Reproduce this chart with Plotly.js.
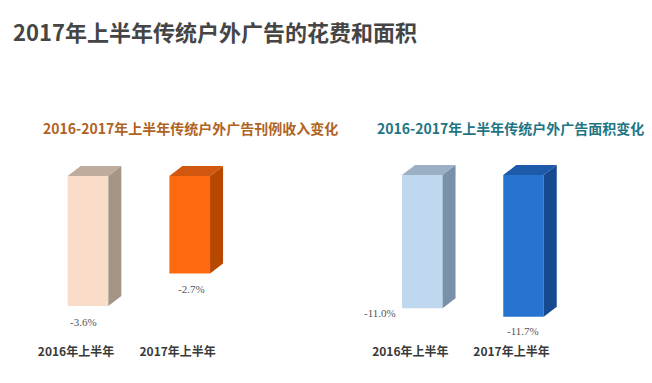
<!DOCTYPE html>
<html>
<head>
<meta charset="utf-8">
<script src="https://cdn.plot.ly/plotly-3.0.1.min.js"></script>
<style>html,body{margin:0;padding:0;background:#fff;}#chart{width:652px;height:383px;}</style>
</head>
<body>
<div id="chart"></div>
<script>
// ---- data ----
const categories = ["2016年上半年", "2017年上半年"];
const revenueChange = [-3.6, -2.7];   // 刊例收入变化 (%)
const areaChange = [-11.0, -11.7];    // 面积变化 (%)
const valueLabels1 = ["-3.6%", "-2.7%"];
const valueLabels2 = ["-11.0%", "-11.7%"];

// ---- styling / layout constants ----
const W = 652, H = 383;
const BAR_W = 0.4;
const DEPTH_X_PX = 13, DEPTH_Y_PX = 10;
const leftX = [37.15, 240.55], rightX = [371.7, 574.1];
const yPx = [160.5, 338.5];
const leftYRange = [-4.5, 0.43];
const rightYRange = [-13.5, 1.2];
const xRange = [-0.5, 1.5];

const palette1 = {front: ["#FADDC8", "#FF6A10"], top: ["#BFAC9C", "#D2570E"], side: ["#A59585", "#B84800"]};
const palette2 = {front: ["#BFD7EF", "#2673D0"], top: ["#9BB0C5", "#1D5AAA"], side: ["#7A90A8", "#154A90"]};

function dom(px, total) { return [px[0] / total, px[1] / total]; }
function ydom(px) { return [1 - px[1] / H, 1 - px[0] / H]; }

function buildTraces(values, pal, xa, ya, xPx, yRange) {
  const dx = DEPTH_X_PX * (xRange[1] - xRange[0]) / (xPx[1] - xPx[0]);
  const dy = DEPTH_Y_PX * (yRange[1] - yRange[0]) / (yPx[1] - yPx[0]);
  const traces = [];
  const idx = values.map((_, i) => i);
  traces.push({
    type: "bar", x: idx, y: values, base: 0, width: BAR_W,
    marker: {color: pal.front, line: {width: 0}},
    xaxis: xa, yaxis: ya, hoverinfo: "skip", showlegend: false
  });
  values.forEach((v, i) => {
    const L = i - BAR_W / 2, R = i + BAR_W / 2;
    traces.push({
      type: "scatter", mode: "lines", fill: "toself",
      x: [L, L + dx, R + dx, R, L], y: [0, dy, dy, 0, 0],
      fillcolor: pal.top[i], line: {width: 0, color: pal.top[i]},
      xaxis: xa, yaxis: ya, hoverinfo: "skip", showlegend: false
    });
    traces.push({
      type: "scatter", mode: "lines", fill: "toself",
      x: [R, R + dx, R + dx, R, R], y: [0, dy, v + dy, v, 0],
      fillcolor: pal.side[i], line: {width: 0, color: pal.side[i]},
      xaxis: xa, yaxis: ya, hoverinfo: "skip", showlegend: false
    });
  });
  return traces;
}

const traces = [].concat(
  buildTraces(revenueChange, palette1, "x", "y", leftX, leftYRange),
  buildTraces(areaChange, palette2, "x2", "y2", rightX, rightYRange)
);

function xaxisDef(px, anchor) {
  return {
    domain: dom(px, W), range: xRange, anchor: anchor, fixedrange: true,
    tickvals: [0, 1], ticktext: categories.map(c => "<b>" + c + "</b>"),
    tickfont: {family: "Noto Sans CJK SC", size: 12, color: "#3a3a3a"},
    ticklabelshift: -12, ticklabelstandoff: 4,
    showgrid: false, zeroline: false, showline: false, ticks: ""
  };
}
function yaxisDef(range, anchor) {
  return {domain: ydom(yPx), range: range, anchor: anchor, visible: false, fixedrange: true};
}

const valFont = {family: "Liberation Serif, Times New Roman, serif", size: 11, color: "#555555"};
const annotations = [];
const shifts1 = [[-5, -16], [2, -15]];
const shifts2 = [[-42, -5], [-1, -14]];
revenueChange.forEach((v, i) => annotations.push({
  x: i, y: v, xref: "x", yref: "y", text: valueLabels1[i], showarrow: false,
  font: valFont, xshift: shifts1[i][0], yshift: shifts1[i][1]
}));
areaChange.forEach((v, i) => annotations.push({
  x: i, y: v, xref: "x2", yref: "y2", text: valueLabels2[i], showarrow: false,
  font: valFont, xshift: shifts2[i][0], yshift: shifts2[i][1]
}));
annotations.push({
  xref: "paper", yref: "paper", x: 41 / W, y: 1 - 128 / H, xanchor: "left", yanchor: "middle",
  text: "<b>2016-2017年上半年传统户外广告刊例收入变化</b>", showarrow: false,
  font: {family: "Noto Sans CJK SC", size: 14, color: "#B0631F"}
});
annotations.push({
  xref: "paper", yref: "paper", x: 375 / W, y: 1 - 128 / H, xanchor: "left", yanchor: "middle",
  text: "<b>2016-2017年上半年传统户外广告面积变化</b>", showarrow: false,
  font: {family: "Noto Sans CJK SC", size: 14, color: "#1E7585"}
});

const layout = {
  width: W, height: H,
  margin: {l: 0, r: 0, t: 0, b: 0},
  paper_bgcolor: "#ffffff", plot_bgcolor: "rgba(0,0,0,0)",
  title: {
    text: "<b>2017年上半年传统户外广告的花费和面积</b>",
    x: 13 / W, xanchor: "left", y: 1 - 33 / H, yanchor: "middle",
    font: {family: "Noto Sans CJK SC", size: 22, color: "#454545"}
  },
  showlegend: false, barmode: "overlay",
  xaxis: xaxisDef(leftX, "y"),
  yaxis: yaxisDef(leftYRange, "x"),
  xaxis2: xaxisDef(rightX, "y2"),
  yaxis2: yaxisDef(rightYRange, "x2"),
  annotations: annotations
};

Plotly.newPlot("chart", traces, layout, {displayModeBar: false, staticPlot: true});
</script>
</body>
</html>
